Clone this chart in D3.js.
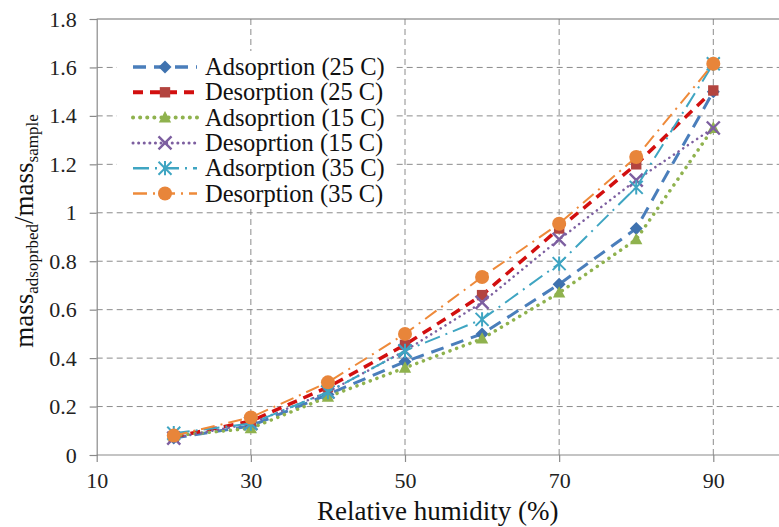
<!DOCTYPE html>
<html>
<head>
<meta charset="utf-8">
<script src="https://cdn.jsdelivr.net/npm/d3@7"></script>
<style>
  body { margin: 0; background: #fff; }
  svg text { font-family: "Liberation Serif", "Times New Roman", Times, "DejaVu Serif", serif !important; }
</style>
</head>
<body>
<svg width="779" height="527"></svg>
<script>
// relative humidity (%)
let humidity = [20, 30, 40, 50, 60, 70, 80, 90];

// mass adsorbed / mass sample
let ads25 = [0.07, 0.12, 0.25, 0.385, 0.50, 0.705, 0.935, 1.50];
let des25 = [0.075, 0.14, 0.28, 0.455, 0.66, 0.935, 1.20, 1.505];
let ads15 = [0.08, 0.11, 0.24, 0.36, 0.48, 0.67, 0.89, 1.35];
let des15 = [0.07, 0.13, 0.26, 0.43, 0.63, 0.89, 1.135, 1.35];
let ads35 = [0.09, 0.13, 0.26, 0.43, 0.56, 0.79, 1.105, 1.615];
let des35 = [0.08, 0.155, 0.30, 0.50, 0.735, 0.955, 1.23, 1.615];

let seriesNames = [
    "Adsoprtion (25 C)", "Desorption (25 C)",
    "Adsoprtion (15 C)", "Desoprtion (15 C)",
    "Adsorption (35 C)", "Desorption (35 C)"
];
let xTicks = [10, 30, 50, 70, 90];
let yTicks = [0, 0.2, 0.4, 0.6, 0.8, 1, 1.2, 1.4, 1.6, 1.8];

let svg = d3.select("svg");
let width = +svg.attr("width");

let plotLeft = 96.7, plotRight = width, plotTop = 19, plotBottom = 455;

let x = d3.scaleLinear().domain([10, 90]).range([plotLeft, 713.3]);
let y = d3.scaleLinear().domain([0, 1.8]).range([plotBottom, plotTop]);

// line + marker styles per series
let styles = [
    { values: ads25, line: "#4a7ebb", width: 3, dash: "13,8", cap: "butt", marker: "diamond", fill: "#3f72af" },
    { values: des25, line: "#d20f0f", width: 3.5, dash: "10,7", cap: "butt", marker: "square", fill: "#b3443f" },
    { values: ads15, line: "#8fb24e", width: 3.5, dash: "0.1,7", cap: "round", marker: "triangle", fill: "#8fb24e" },
    { values: des15, line: "#7d5fa0", width: 2.5, dash: "0.1,5.5", cap: "round", marker: "cross", fill: "#7d5fa0" },
    { values: ads35, line: "#3fa5c2", width: 2, dash: "16,6,2,6", cap: "butt", marker: "star", fill: "#3fa5c2" },
    { values: des35, line: "#ee8a3a", width: 2, dash: "14,6,2,6", cap: "butt", marker: "circle", fill: "#e8853a" }
];

// gridlines
let grid = svg.append("g")
    .attr("stroke", "#8c8c8c")
    .attr("stroke-width", 1)
    .attr("stroke-dasharray", "6,4");

grid.selectAll("line.h")
    .data(yTicks.filter((d) => d > 0 && d < 1.8))
    .enter()
    .append("line")
    .attr("x1", plotLeft).attr("x2", plotRight)
    .attr("y1", (d) => y(d)).attr("y2", (d) => y(d));

grid.selectAll("line.v")
    .data(xTicks.filter((d) => d > 10))
    .enter()
    .append("line")
    .attr("x1", (d) => x(d)).attr("x2", (d) => x(d))
    .attr("y1", plotTop).attr("y2", plotBottom);

// top border
svg.append("line")
    .attr("x1", plotLeft).attr("x2", plotRight)
    .attr("y1", plotTop).attr("y2", plotTop)
    .attr("stroke", "#6f6f6f").attr("stroke-width", 1.2);

// axes
let xAxis = svg.append("g")
    .attr("transform", `translate(0,${plotBottom})`)
    .call(d3.axisBottom(x).tickValues(xTicks).tickSize(7).tickPadding(10).tickFormat(d3.format("d")));
xAxis.select(".domain").attr("d", `M${plotLeft},0H${plotRight}`);

let yAxis = svg.append("g")
    .attr("transform", `translate(${plotLeft},0)`)
    .call(d3.axisLeft(y).tickValues(yTicks).tickSize(7).tickPadding(13).tickFormat((d) => d === 1 || d === 0 ? d : d3.format(".1f")(d)));

svg.selectAll(".domain, .tick line").attr("stroke", "#8a8a8a").attr("stroke-width", 1.2);
svg.selectAll(".tick text")
    .attr("font-size", 22)
    .attr("fill", "#222");

// marker shapes
function drawMarker(g, type, fill, size) {
    let s = size;
    if (type === "diamond") {
        g.append("path").attr("d", `M0,${-s}L${s},0L0,${s}L${-s},0Z`).attr("fill", fill);
    } else if (type === "square") {
        g.append("rect").attr("x", -s * 0.8).attr("y", -s * 0.8)
            .attr("width", s * 1.6).attr("height", s * 1.6).attr("fill", fill);
    } else if (type === "triangle") {
        g.append("path").attr("d", `M0,${-s}L${s * 0.95},${s * 0.75}L${-s * 0.95},${s * 0.75}Z`).attr("fill", fill);
    } else if (type === "cross") {
        g.append("path").attr("d", `M${-s},${-s}L${s},${s}M${s},${-s}L${-s},${s}`)
            .attr("stroke", fill).attr("stroke-width", 2.4).attr("fill", "none");
    } else if (type === "star") {
        g.append("path")
            .attr("d", `M${-s},${-s}L${s},${s}M${s},${-s}L${-s},${s}M0,${-s * 1.1}V${s * 1.1}`)
            .attr("stroke", fill).attr("stroke-width", 2).attr("fill", "none");
    } else if (type === "circle") {
        g.append("circle").attr("r", s).attr("fill", fill);
    }
}

let line = d3.line()
    .x((d, i) => x(humidity[i]))
    .y((d) => y(d));

// series: line then markers, in order
styles.forEach((st) => {
    let g = svg.append("g");
    g.append("path")
        .datum(st.values)
        .attr("d", line)
        .attr("fill", "none")
        .attr("stroke", st.line)
        .attr("stroke-width", st.width)
        .attr("stroke-dasharray", st.dash)
        .attr("stroke-linecap", st.cap);

    st.values.forEach((v, i) => {
        let m = g.append("g").attr("transform", `translate(${x(humidity[i])},${y(v)})`);
        drawMarker(m, st.marker, st.fill, st.marker === "circle" ? 7 : 6.5);
    });
});

// legend
let legend = svg.append("g");
legend.append("rect")
    .attr("x", 117).attr("y", 51)
    .attr("width", 278).attr("height", 155)
    .attr("fill", "#fff");

styles.forEach((st, i) => {
    let cy = 67 + i * 25.3;
    let row = legend.append("g");
    row.append("line")
        .attr("x1", 133).attr("x2", 197)
        .attr("y1", cy).attr("y2", cy)
        .attr("stroke", st.line)
        .attr("stroke-width", st.width + 0.5)
        .attr("stroke-dasharray", st.dash)
        .attr("stroke-linecap", st.cap);
    let m = row.append("g").attr("transform", `translate(165,${cy})`);
    drawMarker(m, st.marker, st.fill, st.marker === "circle" ? 7 : 6.5);
    row.append("text")
        .attr("x", 205).attr("y", cy + 8)
        .attr("font-size", 24.5)
        .attr("fill", "#111")
        .text(seriesNames[i]);
});

// axis titles
svg.append("text")
    .attr("x", (plotLeft + plotRight) / 2)
    .attr("y", 520)
    .attr("text-anchor", "middle")
    .attr("font-size", 27)
    .attr("fill", "#111")
    .text("Relative humidity (%)");

let yTitle = svg.append("text")
    .attr("transform", "translate(33,231) rotate(-90)")
    .attr("text-anchor", "middle")
    .attr("font-size", 27)
    .attr("fill", "#111");
yTitle.append("tspan").text("mass");
yTitle.append("tspan").attr("font-size", 17).attr("dy", 5).text("adsoprbed");
yTitle.append("tspan").attr("dy", -5).text("/mass");
yTitle.append("tspan").attr("font-size", 17).attr("dy", 5).text("sample");
</script>
</body>
</html>
